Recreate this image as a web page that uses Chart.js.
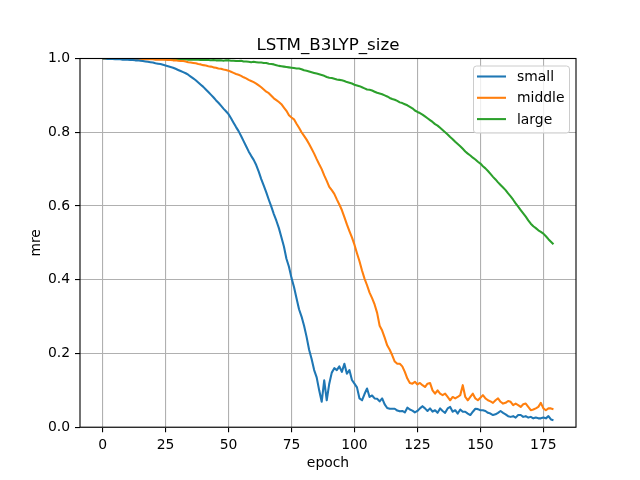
<!DOCTYPE html>
<html>
<head>
<meta charset="utf-8">
<title>LSTM_B3LYP_size</title>
<script src="https://cdn.jsdelivr.net/npm/chart.js@4"></script>
<style>
  html, body { margin: 0; padding: 0; background: #fff; }
  canvas { display: block; }
</style>
</head>
<body>
<canvas id="chart" width="640" height="480"></canvas>
<script>
// mre per epoch

const epochs = Array.from({ length: 180 }, (_, i) => i);
const xTicks = [0, 25, 50, 75, 100, 125, 150, 175];
const chartTitle = "LSTM_B3LYP_size";

const small = [
  1.000, 1.000, 0.999, 0.999, 0.999, 0.998, 0.998, 0.998, 0.997, 0.997,
  0.997, 0.996, 0.996, 0.995, 0.995, 0.994, 0.993, 0.992, 0.991, 0.990,
  0.989, 0.987, 0.986, 0.985, 0.983, 0.981, 0.979, 0.977, 0.975, 0.972,
  0.969, 0.966, 0.963, 0.960, 0.956, 0.951, 0.946, 0.941, 0.935, 0.929,
  0.923, 0.916, 0.909, 0.902, 0.895, 0.887, 0.880, 0.872, 0.864, 0.857,
  0.849, 0.838, 0.826, 0.814, 0.803, 0.790, 0.776, 0.762, 0.748, 0.736,
  0.725, 0.711, 0.693, 0.673, 0.655, 0.637, 0.617, 0.598, 0.578, 0.560,
  0.540, 0.515, 0.490, 0.457, 0.435, 0.405, 0.380, 0.350, 0.320, 0.300,
  0.275, 0.245, 0.210, 0.185, 0.155, 0.135, 0.100, 0.069, 0.127, 0.073,
  0.118, 0.148, 0.160, 0.155, 0.165, 0.150, 0.172, 0.145, 0.155, 0.128,
  0.118, 0.108, 0.078, 0.073, 0.090, 0.105, 0.082, 0.086, 0.078, 0.077,
  0.070, 0.078, 0.062, 0.052, 0.050, 0.050, 0.050, 0.045, 0.043, 0.044,
  0.040, 0.053, 0.048, 0.045, 0.040, 0.044, 0.051, 0.057, 0.051, 0.044,
  0.051, 0.042, 0.046, 0.039, 0.051, 0.044, 0.039, 0.051, 0.055, 0.042,
  0.046, 0.037, 0.048, 0.042, 0.042, 0.037, 0.033, 0.042, 0.050, 0.049,
  0.046, 0.046, 0.044, 0.039, 0.037, 0.033, 0.035, 0.039, 0.044, 0.039,
  0.035, 0.030, 0.028, 0.030, 0.026, 0.033, 0.033, 0.028, 0.030, 0.026,
  0.028, 0.024, 0.026, 0.024, 0.024, 0.026, 0.024, 0.030, 0.021, 0.019
];

const middle = [
  1.000, 1.000, 1.000, 1.000, 1.000, 1.000, 1.000, 1.000, 1.000, 0.999,
  0.999, 0.999, 0.999, 0.999, 0.999, 0.998, 0.998, 0.998, 0.998, 0.998,
  0.998, 0.997, 0.997, 0.997, 0.997, 0.997, 0.996, 0.996, 0.995, 0.995,
  0.994, 0.993, 0.993, 0.992, 0.990, 0.989, 0.988, 0.987, 0.985, 0.984,
  0.982, 0.981, 0.979, 0.978, 0.976, 0.975, 0.973, 0.972, 0.970, 0.969,
  0.967, 0.964, 0.961, 0.958, 0.956, 0.953, 0.949, 0.946, 0.942, 0.939,
  0.936, 0.932, 0.927, 0.922, 0.916, 0.910, 0.906, 0.899, 0.892, 0.887,
  0.882, 0.876, 0.867, 0.858, 0.846, 0.840, 0.835, 0.823, 0.812, 0.800,
  0.790, 0.780, 0.768, 0.755, 0.742, 0.727, 0.713, 0.700, 0.683, 0.668,
  0.652, 0.643, 0.633, 0.618, 0.604, 0.589, 0.570, 0.550, 0.532, 0.515,
  0.495, 0.472, 0.450, 0.425, 0.403, 0.385, 0.365, 0.350, 0.333, 0.310,
  0.275, 0.262, 0.243, 0.222, 0.210, 0.195, 0.178, 0.172, 0.172, 0.165,
  0.150, 0.132, 0.120, 0.118, 0.123, 0.116, 0.120, 0.114, 0.109, 0.118,
  0.120, 0.100, 0.091, 0.100, 0.091, 0.087, 0.091, 0.082, 0.073, 0.082,
  0.078, 0.082, 0.087, 0.114, 0.082, 0.073, 0.082, 0.091, 0.078, 0.073,
  0.080, 0.087, 0.078, 0.073, 0.070, 0.066, 0.073, 0.078, 0.069, 0.064,
  0.066, 0.071, 0.069, 0.060, 0.064, 0.060, 0.055, 0.062, 0.064, 0.055,
  0.046, 0.048, 0.051, 0.055, 0.066, 0.051, 0.046, 0.051, 0.051, 0.049
];

const large = [
  1.000, 1.000, 1.000, 1.000, 1.000, 1.000, 1.000, 1.000, 1.000, 1.000,
  1.000, 1.000, 1.000, 1.000, 1.000, 0.999, 0.999, 0.999, 0.999, 0.999,
  0.999, 0.999, 0.999, 0.999, 0.999, 0.998, 0.998, 0.998, 0.998, 0.998,
  0.998, 0.998, 0.997, 0.998, 0.997, 0.997, 0.997, 0.997, 0.997, 0.996,
  0.996, 0.996, 0.996, 0.995, 0.996, 0.995, 0.995, 0.995, 0.994, 0.995,
  0.995, 0.994, 0.994, 0.993, 0.993, 0.994, 0.992, 0.992, 0.991, 0.990,
  0.991, 0.990, 0.989, 0.989, 0.988, 0.988, 0.986, 0.985, 0.984, 0.982,
  0.980, 0.979, 0.978, 0.977, 0.976, 0.975, 0.974, 0.973, 0.973, 0.971,
  0.968, 0.967, 0.965, 0.963, 0.961, 0.959, 0.957, 0.955, 0.953, 0.950,
  0.948, 0.947, 0.945, 0.943, 0.942, 0.941, 0.939, 0.936, 0.934, 0.932,
  0.929, 0.927, 0.925, 0.922, 0.919, 0.916, 0.915, 0.913, 0.910, 0.907,
  0.905, 0.903, 0.900, 0.897, 0.893, 0.890, 0.888, 0.885, 0.881, 0.879,
  0.876, 0.873, 0.869, 0.865, 0.859, 0.855, 0.852, 0.848, 0.843, 0.838,
  0.833, 0.828, 0.822, 0.818, 0.812, 0.806, 0.800, 0.794, 0.787, 0.781,
  0.774, 0.768, 0.762, 0.755, 0.748, 0.742, 0.737, 0.731, 0.726, 0.720,
  0.715, 0.708, 0.702, 0.695, 0.687, 0.679, 0.672, 0.664, 0.657, 0.650,
  0.643, 0.634, 0.626, 0.617, 0.607, 0.598, 0.589, 0.580, 0.571, 0.561,
  0.552, 0.545, 0.540, 0.534, 0.530, 0.525, 0.518, 0.510, 0.503, 0.496
];

const seriesNames = ["small", "middle", "large"];
const seriesColors = ["#1f77b4", "#ff7f0e", "#2ca02c"];

const FONT = "'DejaVu Sans', sans-serif";

function toPoints(values) {
  return values.map((v, i) => ({ x: epochs[i], y: v }));
}

// matplotlib-style frame, title centred on the axes, legend box upper right
const frameAndLegend = {
  id: "frameAndLegend",
  afterDatasetsDraw(chart) {
    const { ctx, chartArea: a } = chart;
    ctx.save();
    ctx.strokeStyle = "#000";
    ctx.lineWidth = 1.1;
    ctx.strokeRect(a.left, a.top, a.right - a.left, a.bottom - a.top);

    ctx.fillStyle = "#000";
    ctx.font = "16.7px " + FONT;
    ctx.textAlign = "center";
    ctx.textBaseline = "alphabetic";
    ctx.fillText(chartTitle, (a.left + a.right) / 2, a.top - 8.3);

    const w = 96, h = 67;
    const x0 = a.right - 7 - w, y0 = a.top + 7;
    ctx.beginPath();
    ctx.roundRect(x0 + 0.5, y0 + 0.5, w, h, 3);
    ctx.fillStyle = "rgba(255,255,255,0.8)";
    ctx.fill();
    ctx.strokeStyle = "#cccccc";
    ctx.lineWidth = 1;
    ctx.stroke();

    ctx.font = "13.9px " + FONT;
    ctx.textBaseline = "middle";
    ctx.textAlign = "left";
    seriesNames.forEach((name, k) => {
      const y = y0 + 11 + k * 21.3;
      ctx.beginPath();
      ctx.moveTo(x0 + 4, y);
      ctx.lineTo(x0 + 33, y);
      ctx.strokeStyle = seriesColors[k];
      ctx.lineWidth = 2.08;
      ctx.stroke();
      ctx.fillStyle = "#000";
      ctx.fillText(name, x0 + 44, y + 1);
    });
    ctx.restore();
  },
};

new Chart(document.getElementById("chart"), {
  type: "line",
  data: {
    datasets: [small, middle, large].map((vals, k) => ({
      label: seriesNames[k],
      data: toPoints(vals),
      borderColor: seriesColors[k],
      backgroundColor: seriesColors[k],
      borderWidth: 2.08,
      borderJoinStyle: "round",
      pointRadius: 0,
      tension: 0,
      fill: false,
    })),
  },
  options: {
    responsive: false,
    animation: false,
    devicePixelRatio: 1,
    layout: { padding: { top: 58.5, right: 64, bottom: 0, left: 0 } },
    plugins: {
      legend: { display: false },
      tooltip: { enabled: false },
      title: { display: false },
    },
    scales: {
      x: {
        type: "linear",
        min: -8.95,
        max: 187.95,
        afterBuildTicks: (s) => { s.ticks = xTicks.map((v) => ({ value: v })); },
        afterFit: (s) => { s.height = 52.8; },
        ticks: {
          color: "#000",
          autoSkip: false,
          maxRotation: 0,
          padding: 5,
          font: { family: FONT, size: 13.9 },
          callback: (v) => String(v),
        },
        grid: {
          color: "#b0b0b0",
          lineWidth: 1.1,
          drawTicks: true,
          tickLength: 5,
          tickColor: "#000",
          tickWidth: 1.1,
        },
        border: { display: false },
        title: {
          display: true,
          text: "epoch",
          color: "#000",
          font: { family: FONT, size: 13.9 },
          padding: { top: 0, bottom: 8 },
        },
      },
      y: {
        min: 0,
        max: 1,
        afterFit: (s) => { s.width = 80; },
        ticks: {
          stepSize: 0.2,
          color: "#000",
          padding: 5,
          font: { family: FONT, size: 13.9 },
          callback: (v) => Number(v).toFixed(1),
        },
        grid: {
          color: "#b0b0b0",
          lineWidth: 1.1,
          drawTicks: true,
          tickLength: 5,
          tickColor: "#000",
          tickWidth: 1.1,
        },
        border: { display: false },
        title: {
          display: true,
          text: "mre",
          color: "#000",
          font: { family: FONT, size: 13.9 },
          padding: { top: 28, bottom: 0 },
        },
      },
    },
  },
  plugins: [frameAndLegend],
});
</script>
</body>
</html>
